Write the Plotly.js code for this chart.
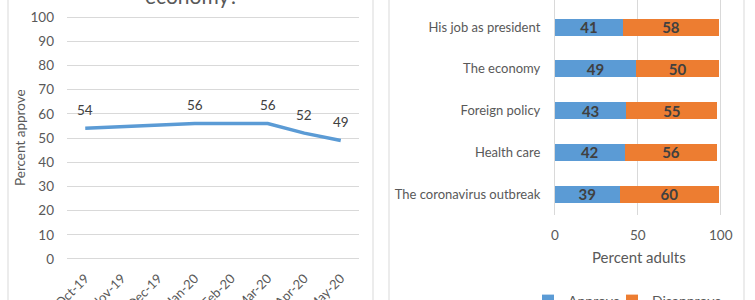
<!DOCTYPE html>
<html>
<head>
<meta charset="utf-8">
<script src="https://cdn.plot.ly/plotly-3.0.1.min.js"></script>
<style>html,body{margin:0;padding:0;background:#fff;}#chart{width:755px;height:300px;}</style>
</head>
<body>
<div id="chart"></div>
<script>
// Left chart: monthly approval on the economy
const months = ["Oct-19","Nov-19","Dec-19","Jan-20","Feb-20","Mar-20","Apr-20","May-20"];
const approveEconomy = [54, null, null, 56, null, 56, 52, 49];
const leftTicks = [0,10,20,30,40,50,60,70,80,90,100];

// Right chart: approval by issue
const issues = ["His job as president","The economy","Foreign policy","Health care","The coronavirus outbreak"];
const approve = [41, 49, 43, 42, 39];
const disapprove = [58, 50, 55, 56, 60];
const rightTicks = [0, 50, 100];

const FONT = "Lato, 'Open Sans', sans-serif";
const GRAY = "#595959";
const GRID = "#D9D9D9";
const W = 755, H = 300;
const px = v => v / W;
const py = v => (H - v) / H;

const barText = {family: FONT, size: 15, color: "#404040", weight: "bold"};
const traces = [
  {
    type: "scatter", mode: "lines", x: months, y: approveEconomy,
    connectgaps: true, xaxis: "x", yaxis: "y",
    line: {color: "#5B9BD5", width: 3.5},
    showlegend: false, hoverinfo: "skip"
  },
  {
    type: "bar", orientation: "h", name: "Approve", y: issues, x: approve,
    xaxis: "x2", yaxis: "y2", marker: {color: "#5B9BD5"}, legend: "legend",
    texttemplate: "%{x}", textposition: "inside", insidetextanchor: "middle", textangle: 0,
    textfont: barText, hoverinfo: "skip"
  },
  {
    type: "bar", orientation: "h", name: "Disapprove", y: issues, x: disapprove,
    xaxis: "x2", yaxis: "y2", marker: {color: "#ED7D31"}, legend: "legend2",
    texttemplate: "%{x}", textposition: "inside", insidetextanchor: "middle", textangle: 0,
    textfont: barText, hoverinfo: "skip"
  }
];

const annotations = [];
months.forEach((m, i) => {
  if (approveEconomy[i] !== null) {
    annotations.push({
      xref: "x", yref: "y", x: m, y: approveEconomy[i], text: String(approveEconomy[i]),
      showarrow: false, yshift: 18, xanchor: "center", yanchor: "middle",
      font: {family: FONT, size: 13.5, color: "#404040"}
    });
  }
});
annotations.push(
  {xref: "paper", yref: "paper", x: px(192), y: py(10), xanchor: "center", yanchor: "bottom",
   text: "economy?", showarrow: false, font: {family: FONT, size: 21, color: GRAY}},
  {xref: "paper", yref: "paper", x: px(20), y: py(138), xanchor: "center", yanchor: "middle",
   text: "Percent approve", textangle: -90,
   showarrow: false, font: {family: FONT, size: 13.5, color: GRAY}},
  {xref: "paper", yref: "paper", x: px(639), y: py(257), xanchor: "center", yanchor: "middle",
   text: "Percent adults", showarrow: false, font: {family: FONT, size: 15, color: GRAY}}
);

const shapes = [8, 373, 389, 744].map(x => ({
  type: "line", xref: "paper", yref: "paper", x0: px(x), x1: px(x), y0: 0, y1: 1,
  line: {color: GRID, width: 1}
}));

const legendBase = {orientation: "h", xanchor: "left", yanchor: "middle", y: py(301),
  font: {family: FONT, size: 14, color: GRAY}, itemwidth: 30, bgcolor: "rgba(0,0,0,0)"};

const layout = {
  width: W, height: H,
  margin: {l: 0, r: 0, t: 0, b: 0, autoexpand: false},
  paper_bgcolor: "#fff", plot_bgcolor: "#fff",
  font: {family: FONT, color: GRAY},
  barmode: "stack", bargap: 0.59,
  uniformtext: {mode: "show", minsize: 15},
  showlegend: true,
  legend: Object.assign({}, legendBase, {x: px(528)}),
  legend2: Object.assign({}, legendBase, {x: px(612)}),
  xaxis: {
    domain: [px(67), px(359)], anchor: "y", type: "category", range: [-0.5, 7.5],
    showgrid: false, zeroline: false, showline: false, ticks: "",
    tickangle: -45, tickfont: {family: FONT, size: 13, color: GRAY}, ticklabelstandoff: 6
  },
  yaxis: {
    domain: [py(261.4), py(14.6)], anchor: "x", range: [-1, 101],
    tickvals: leftTicks, ticktext: leftTicks.map(String),
    showgrid: true, gridcolor: GRID, gridwidth: 1, zeroline: false, showline: false, ticks: "",
    tickfont: {family: FONT, size: 13.5, color: GRAY}, ticklabelstandoff: 12
  },
  xaxis2: {
    domain: [px(553.3), px(722.4)], anchor: "y2", range: [-1, 101],
    tickvals: rightTicks, ticktext: rightTicks.map(String),
    showgrid: true, gridcolor: GRID, gridwidth: 1, zeroline: false, showline: false, ticks: "",
    tickfont: {family: FONT, size: 13.5, color: GRAY}, ticklabelstandoff: 10
  },
  yaxis2: {
    domain: [py(215), 1], anchor: "x2", type: "category", range: [4.5, -0.65],
    showgrid: false, zeroline: false, showline: false, ticks: "",
    tickfont: {family: FONT, size: 13, color: GRAY}, ticklabelstandoff: 12
  },
  annotations: annotations,
  shapes: shapes
};

Plotly.newPlot("chart", traces, layout, {displayModeBar: false, staticPlot: true});
</script>
</body>
</html>
